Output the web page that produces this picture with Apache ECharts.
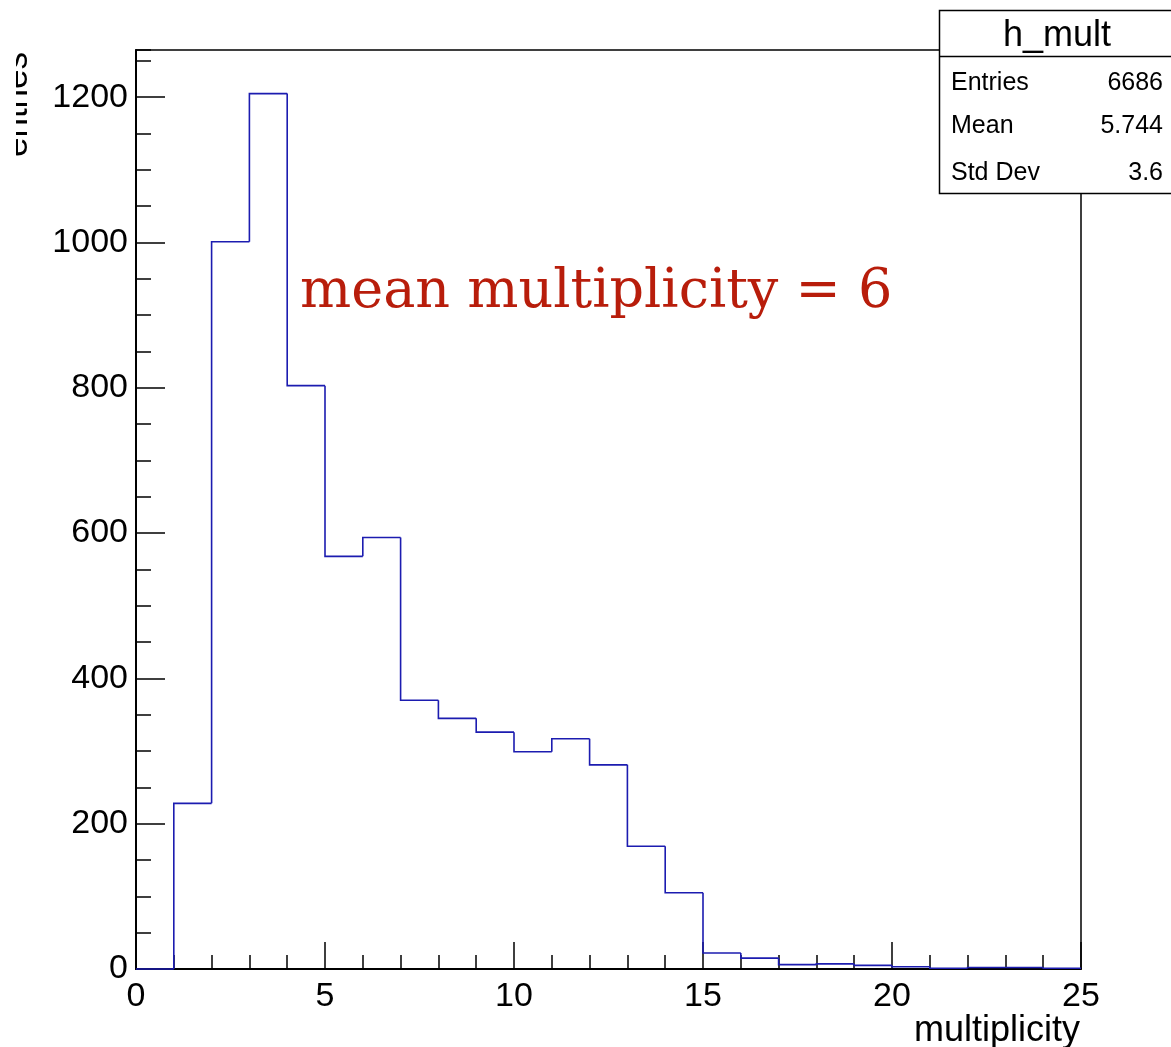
<!DOCTYPE html>
<html>
<head>
<meta charset="utf-8">
<title>h_mult</title>
<script src="https://cdn.jsdelivr.net/npm/echarts@6/dist/echarts.min.js"></script>
<style>
  html, body { margin: 0; padding: 0; background: #fff; }
  #chart { width: 1171px; height: 1047px; }
</style>
</head>
<body>
<div id="chart"></div>
<script>
// Multiplicity histogram: one bin per integer, lower edges 0..24
const binLow = [0, 1, 2, 3, 4, 5, 6, 7, 8, 9, 10, 11, 12, 13, 14, 15, 16, 17, 18, 19, 20, 21, 22, 23, 24];
const counts = [0, 228, 1001, 1205, 803, 568, 594, 370, 345, 326, 299, 317, 281, 169, 105, 22, 15, 6, 7, 5, 3, 1, 2, 2, 1];
const binWidth = 1;

const xMin = 0, xMax = 25, xMajor = 5, xMinorSplit = 5;
const yMin = 0, yMax = 1265, yMajor = 200, yMinor = 50;

const statsTitle = 'h_mult';
const statsNames = ['Entries', 'Mean', 'Std Dev'];
const statsValues = ['6686', '5.744', '3.6'];
const xTitle = 'multiplicity';
const yTitle = 'entries';
const note = 'mean multiplicity = 6';

// each bin: [lowEdge, highEdge, count, count of the previous bin]
const bins = binLow.map((x, i) => [x, x + binWidth, counts[i], i > 0 ? counts[i - 1] : counts[i]]);

const sans = '"Liberation Sans", Arial, Helvetica, sans-serif';
const black = '#000';
const histColor = '#1c1cb0';

// place text by its baseline (text is drawn centred on the em box)
function baselineY(base, size) { return base - 0.26 * size; }

const chart = echarts.init(document.getElementById('chart'), null, { renderer: 'canvas' });

const rowBase = [90, 133, 180];

const option = {
  animation: false,
  backgroundColor: '#fff',
  grid: {
    left: 136, right: 90, top: 50, bottom: 78,
    show: true, borderColor: black, borderWidth: 1.5, backgroundColor: 'transparent'
  },
  xAxis: [{
    type: 'value', min: xMin, max: xMax, interval: xMajor, position: 'bottom',
    axisLine: { show: true, lineStyle: { color: black, width: 2 } },
    axisTick: { show: true, inside: true, length: 27, lineStyle: { color: black, width: 1.5 } },
    minorTick: { show: true, splitNumber: xMinorSplit, length: 14, lineStyle: { color: black, width: 1.5 } },
    axisLabel: { color: black, fontSize: 34, fontFamily: sans, margin: 11, formatter: v => String(v) },
    splitLine: { show: false }, minorSplitLine: { show: false }
  }],
  yAxis: [{
    type: 'value', min: yMin, max: yMax, interval: yMajor, position: 'left',
    axisLine: { show: true, lineStyle: { color: black, width: 2 } },
    axisTick: { show: true, inside: true, length: 29, lineStyle: { color: black, width: 1.5 } },
    axisLabel: { color: black, fontSize: 34, fontFamily: sans, margin: 8, showMaxLabel: false,
                 formatter: v => String(v), padding: [3, 0, 0, 0] },
    splitLine: { show: false }
  }, {
    type: 'value', min: yMin, max: yMax, interval: yMinor, position: 'left', offset: 0,
    axisLine: { show: false },
    axisTick: { show: true, inside: true, length: 15, lineStyle: { color: black, width: 1.5 } },
    axisLabel: { show: false },
    splitLine: { show: false }
  }],
  series: [{
    // histogram outline: top of each bin plus the riser from the previous bin
    type: 'custom',
    xAxisIndex: 0,
    yAxisIndex: 0,
    data: bins,
    clip: false,
    z: 5,
    renderItem: function (params, api) {
      const lo = api.value(0), hi = api.value(1), c = api.value(2), prev = api.value(3);
      const a = api.coord([lo, prev]);
      const b = api.coord([lo, c]);
      const d = api.coord([hi, c]);
      return {
        type: 'polyline',
        shape: { points: [a, b, d] },
        style: { stroke: histColor, lineWidth: 1.6, fill: null }
      };
    }
  }],
  graphic: [
    // annotation
    {
      type: 'text', x: 300, y: baselineY(307, 54), z: 50,
      style: { text: note, fill: '#b81d0b', font: '54px "DejaVu Serif", serif',
               align: 'left', verticalAlign: 'middle' }
    },
    // x axis title
    {
      type: 'text', x: 1080, y: baselineY(1040, 36), z: 50,
      style: { text: xTitle, fill: black, font: '36px ' + sans, align: 'right', verticalAlign: 'middle' }
    },
    // y axis title, rotated, running off the left edge
    {
      type: 'text', x: 26 - 0.26 * 35, y: 52, rotation: Math.PI / 2, z: 50,
      style: { text: yTitle, fill: black, font: '35px ' + sans, align: 'right', verticalAlign: 'middle' }
    },
    {
      type: 'rect', z: 60, shape: { x: 0, y: 30, width: 16, height: 150 },
      style: { fill: '#fff' }
    },
    // statistics box
    {
      type: 'group', z: 100,
      children: [
        { type: 'rect', shape: { x: 939.5, y: 10.5, width: 235, height: 183 },
          style: { fill: '#fff', stroke: black, lineWidth: 1.5 } },
        { type: 'line', shape: { x1: 939.5, y1: 56.5, x2: 1175, y2: 56.5 },
          style: { stroke: black, lineWidth: 1.5 } },
        { type: 'text', x: 1057, y: baselineY(45, 36),
          style: { text: statsTitle, fill: black, font: '36px ' + sans, align: 'center', verticalAlign: 'middle' } },
        ...statsNames.map((n, i) => ({
          type: 'text', x: 951, y: baselineY(rowBase[i], 25),
          style: { text: n, fill: black, font: '25px ' + sans, align: 'left', verticalAlign: 'middle' }
        })),
        ...statsValues.map((v, i) => ({
          type: 'text', x: 1163, y: baselineY(rowBase[i], 25),
          style: { text: v, fill: black, font: '25px ' + sans, align: 'right', verticalAlign: 'middle' }
        }))
      ]
    }
  ]
};

chart.setOption(option);
</script>
</body>
</html>
